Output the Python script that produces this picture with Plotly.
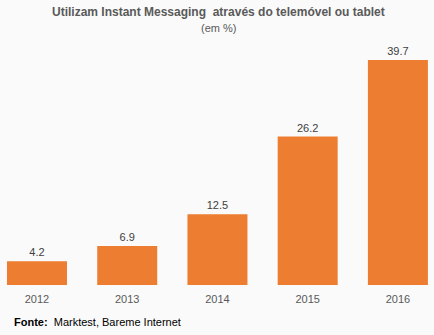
import plotly.graph_objects as go

years = ["2012", "2013", "2014", "2015", "2016"]
values = [4.2, 6.9, 12.5, 26.2, 39.7]
labels = ["4.2", "6.9", "12.5", "26.2", "39.7"]

title_text = "<b>Utilizam Instant Messaging  através do telemóvel ou tablet</b>"
subtitle_text = "(em %)"
source_text = "<b>Fonte:</b>  Marktest, Bareme Internet"

FONT = "Liberation Sans"
BAR = "#ED7D31"
BG = "#FAFAFA"

fig = go.Figure(go.Bar(
    x=years, y=values, text=labels, textposition="outside",
    textfont=dict(family=FONT, size=11, color="#404040"),
    marker=dict(color=BAR, line=dict(width=0)),
    cliponaxis=False,
))

fig.update_layout(
    width=434, height=335,
    margin=dict(l=0, r=0, t=30, b=50),
    paper_bgcolor=BG, plot_bgcolor=BG,
    bargap=0.335,
    showlegend=False,
    font=dict(family=FONT, color="#595959"),
    xaxis=dict(range=[-0.41, 4.40], showgrid=False, zeroline=False, showline=False,
               tickfont=dict(family=FONT, size=11, color="#595959"), ticks="",
               ticklabelstandoff=6),
    yaxis=dict(range=[0, 45], visible=False),
    uniformtext=dict(mode=False),
)

fig.add_annotation(text=title_text, xref="paper", yref="paper", x=218/434, y=1 + (30-12)/255,
                   xanchor="center", yanchor="middle", showarrow=False,
                   font=dict(family=FONT, size=12, color="#595959"))
fig.add_annotation(text=subtitle_text, xref="paper", yref="paper", x=218/434, y=1 + (30-28)/255,
                   xanchor="center", yanchor="middle", showarrow=False,
                   font=dict(family=FONT, size=11, color="#595959"))
fig.add_annotation(text=source_text, xref="paper", yref="paper", x=12/434, y=-(322-285)/255,
                   xanchor="left", yanchor="middle", showarrow=False,
                   font=dict(family=FONT, size=11, color="#000000"))

fig.write_html("out.html")
